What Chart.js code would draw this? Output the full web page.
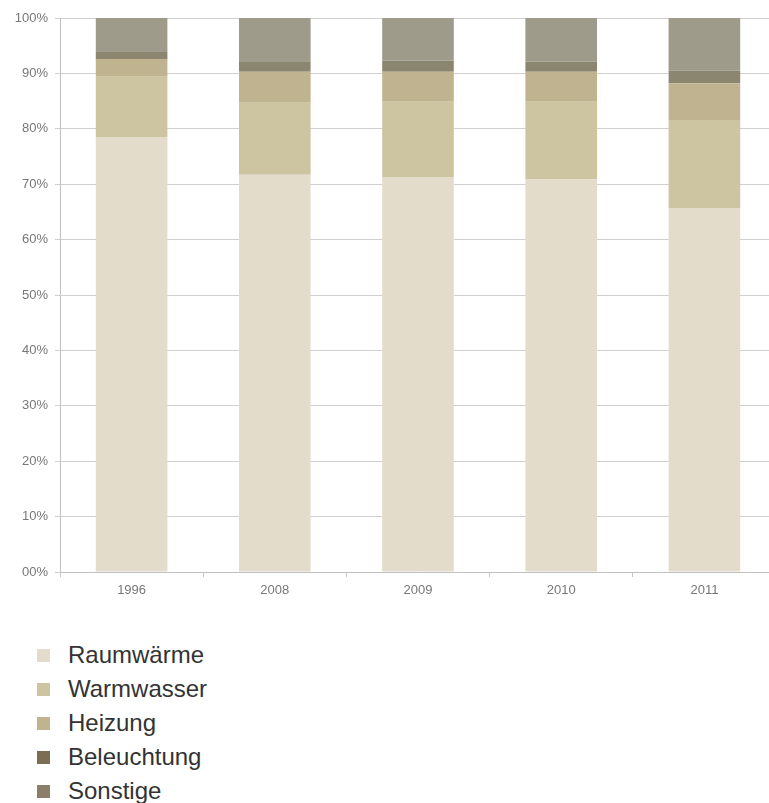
<!DOCTYPE html>
<html>
<head>
<meta charset="utf-8">
<script src="https://cdn.jsdelivr.net/npm/chart.js@4.4.0/dist/chart.umd.min.js"></script>
<style>
  body { margin: 0; background: #fff; overflow: hidden; font-family: "Liberation Sans", Arial, sans-serif; }
  #wrap { position: relative; width: 776px; height: 610px; }
  #legend { position: absolute; left: 37px; top: 638px; }
  .item { height: 34px; display: flex; align-items: center; font-size: 24px; color: #333; }
  .box { width: 13px; height: 13px; margin-right: 18px; }
</style>
</head>
<body>
<div id="wrap"><canvas id="chart"></canvas></div>
<div id="legend"></div>
<script>
const years = ['1996', '2008', '2009', '2010', '2011'];
const seriesNames = ['Raumwärme', 'Warmwasser', 'Heizung', 'Beleuchtung', 'Sonstige'];

// shares in percent
const raumwaerme = [78.5, 71.7, 71.3, 70.9, 65.7];
const warmwasser = [10.9, 13.0, 13.6, 14.0, 15.9];
const heizung = [3.2, 5.6, 5.4, 5.4, 6.6];
const beleuchtung = [1.4, 1.9, 2.0, 1.8, 2.3];
const sonstige = [6.0, 7.8, 7.7, 7.9, 9.5];

const barColors = ['#e4dccb', '#cdc5a2', '#bfb390', '#8a8670', '#9e9b8b'];
const legendColors = ['#e4dccb', '#cdc5a2', '#bfb390', '#7a6e55', '#8b7e6a'];
const yTicks = [0, 10, 20, 30, 40, 50, 60, 70, 80, 90, 100];

const values = [raumwaerme, warmwasser, heizung, beleuchtung, sonstige];

const chart = new Chart(document.getElementById('chart'), {
  type: 'bar',
  data: {
    labels: years,
    datasets: seriesNames.map((name, i) => ({
      label: name,
      data: values[i],
      backgroundColor: barColors[i],
      borderWidth: 0,
      barPercentage: 0.5,
      categoryPercentage: 1
    }))
  },
  options: {
    responsive: true,
    maintainAspectRatio: false,
    animation: false,
    layout: { padding: { top: 18, right: 0, left: 0, bottom: 0 } },
    plugins: {
      legend: { display: false },
      tooltip: { enabled: false }
    },
    scales: {
      x: {
        stacked: true,
        afterFit: s => { s.height = 38; },
        grid: { drawOnChartArea: false, color: '#c8c8c8', tickLength: 5 },
        border: { color: '#c0c0c0' },
        ticks: { color: '#777', font: { family: 'Liberation Sans', size: 13 }, padding: 6 }
      },
      y: {
        stacked: true,
        min: 0,
        max: 100,
        afterFit: s => { s.width = 60; },
        afterBuildTicks: s => { s.ticks = yTicks.map(v => ({ value: v })); },
        grid: { color: '#d0d0d0', tickLength: 5 },
        border: { color: '#c0c0c0' },
        ticks: {
          color: '#777',
          font: { family: 'Liberation Sans', size: 13 },
          padding: 7,
          callback: v => (v === 0 ? '00' : v) + '%'
        }
      }
    }
  }
});

const legend = document.getElementById('legend');
seriesNames.forEach((name, i) => {
  const row = document.createElement('div');
  row.className = 'item';
  const box = document.createElement('span');
  box.className = 'box';
  box.style.background = legendColors[i];
  row.appendChild(box);
  row.appendChild(document.createTextNode(name));
  legend.appendChild(row);
});
</script>
</body>
</html>
